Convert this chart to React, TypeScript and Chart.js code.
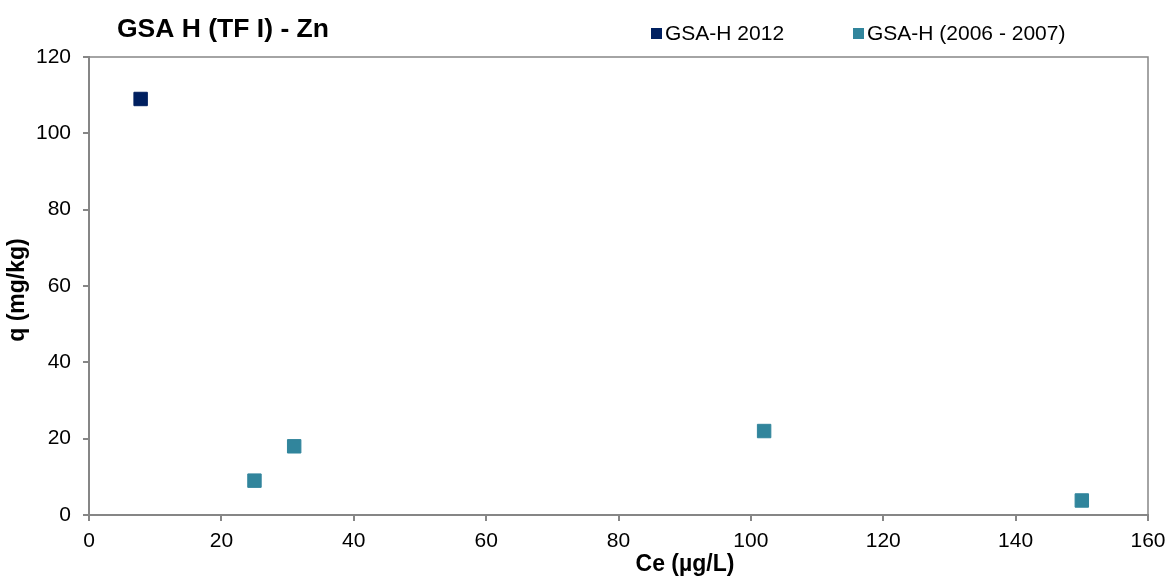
import React, { useEffect, useRef } from "react";
import { Chart, registerables } from "chart.js";

Chart.register(...registerables);

const chartTitle = "GSA H (TF I) - Zn";
const xAxisTitle = "Ce (µg/L)";
const yAxisTitle = "q (mg/kg)";

const series2012Label = "GSA-H 2012";
const series2012X = [7.8];
const series2012Y = [109];

const seriesOldLabel = "GSA-H (2006 - 2007)";
const seriesOldX = [25, 31, 102, 150];
const seriesOldY = [9, 18, 22, 3.8];

const xTicks = [0, 20, 40, 60, 80, 100, 120, 140, 160];
const yTicks = [0, 20, 40, 60, 80, 100, 120];

const colorDark = "#002060";
const colorTeal = "#31859C";
const axisColor = "#868686";
const FONT = "Arial, 'Liberation Sans', sans-serif";

const overlayPlugin = {
  id: "overlay",
  afterDraw(chart: any) {
    const ctx = chart.ctx as CanvasRenderingContext2D;
    const a = chart.chartArea;
    ctx.save();
    // top & right frame
    ctx.strokeStyle = axisColor;
    ctx.lineWidth = 1.5;
    ctx.beginPath();
    ctx.moveTo(a.left, a.top);
    ctx.lineTo(a.right, a.top);
    ctx.lineTo(a.right, a.bottom);
    ctx.stroke();

    // title
    ctx.fillStyle = "#000";
    ctx.font = `bold 26.5px ${FONT}`;
    ctx.textAlign = "left";
    ctx.textBaseline = "alphabetic";
    ctx.fillText(chartTitle, 117, 37);

    // legend
    ctx.font = `21px ${FONT}`;
    ctx.textBaseline = "middle";
    const items = chart.data.datasets.map((d: any, i: number) => ({
      label: d.label,
      color: d.backgroundColor,
      x: i === 0 ? 651 : 853,
    }));
    for (const it of items) {
      ctx.fillStyle = it.color;
      ctx.fillRect(it.x, 28, 11, 11);
      ctx.fillStyle = "#000";
      ctx.fillText(it.label, it.x + 14, 34);
    }

    // axis titles
    ctx.font = `bold 23px ${FONT}`;
    ctx.textAlign = "center";
    ctx.fillText(xAxisTitle, 685, 565);
    ctx.translate(18, 290);
    ctx.rotate(-Math.PI / 2);
    ctx.fillText(yAxisTitle, 0, 0);
    ctx.restore();
  },
};

export default function App() {
  const ref = useRef<HTMLCanvasElement | null>(null);
  useEffect(() => {
    if (!ref.current) return;
    const chart = new Chart(ref.current, {
      type: "scatter",
      data: {
        datasets: [
          {
            label: series2012Label,
            data: series2012X.map((x, i) => ({ x, y: series2012Y[i] })),
            backgroundColor: colorDark,
            borderColor: colorDark,
            borderWidth: 1,
            pointStyle: "rect",
            pointRadius: 9.5,
            pointHoverRadius: 9.5,
          },
          {
            label: seriesOldLabel,
            data: seriesOldX.map((x, i) => ({ x, y: seriesOldY[i] })),
            backgroundColor: colorTeal,
            borderColor: colorTeal,
            borderWidth: 1,
            pointStyle: "rect",
            pointRadius: 9.5,
            pointHoverRadius: 9.5,
          },
        ],
      },
      options: {
        animation: false,
        responsive: true,
        maintainAspectRatio: false,
        layout: { padding: { top: 57, left: 0, right: 22, bottom: 0 } },
        plugins: {
          legend: { display: false },
          title: { display: false },
          tooltip: { enabled: false },
        },
        scales: {
          x: {
            type: "linear",
            min: 0,
            max: 160,
            afterBuildTicks: (s: any) => {
              s.ticks = xTicks.map((v) => ({ value: v }));
            },
            afterFit: (s: any) => {
              s.height = 62;
              s.paddingLeft = 0;
              s.paddingRight = 0;
            },
            ticks: {
              color: "#000",
              font: { family: FONT, size: 21 },
              padding: 8,
            },
            grid: {
              drawOnChartArea: false,
              drawTicks: true,
              tickLength: 6,
              color: axisColor,
              lineWidth: 2,
            },
            border: { color: axisColor, width: 2 },
          },
          y: {
            type: "linear",
            min: 0,
            max: 120,
            afterBuildTicks: (s: any) => {
              s.ticks = yTicks.map((v) => ({ value: v }));
            },
            afterFit: (s: any) => {
              s.width = 89;
              s.paddingTop = 0;
              s.paddingBottom = 0;
            },
            ticks: {
              color: "#000",
              font: { family: FONT, size: 21 },
              padding: 12,
            },
            grid: {
              drawOnChartArea: false,
              drawTicks: true,
              tickLength: 6,
              color: axisColor,
              lineWidth: 2,
            },
            border: { color: axisColor, width: 2 },
          },
        },
      },
      plugins: [overlayPlugin],
    });
    return () => chart.destroy();
  }, []);
  return (
    <div style={{ position: "fixed", left: 0, top: 0, width: 1170, height: 577, background: "#fff" }}>
      <canvas ref={ref} />
    </div>
  );
}
